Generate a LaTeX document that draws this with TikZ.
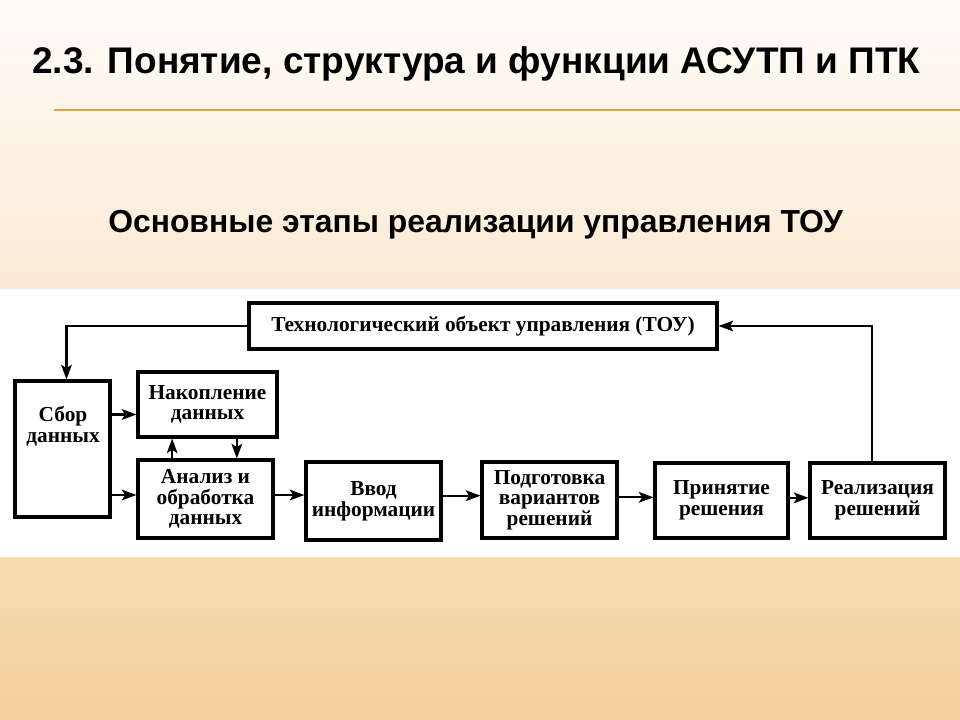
\documentclass[tikz,border=0pt]{standalone}
\usepackage{graphicx}
\usepackage{fontspec}
\setmainfont{Liberation Serif}
\newfontfamily\headfont{Liberation Sans}
\usetikzlibrary{arrows.meta}
\definecolor{bgtop}{HTML}{FFFCF8}
\definecolor{bgbot}{HTML}{F5D09C}
\definecolor{rulecol}{HTML}{E8A33D}
\tikzset{
  box/.style={draw=black, line width=2.3pt, inner sep=0pt, align=center,
    font=\fontsize{16}{15.5}\selectfont\bfseries},
  txt/.style={inner sep=0pt, align=center, font=\fontsize{16}{15.5}\selectfont\bfseries},
  arr/.style={draw=black, line width=1.6pt, -{Stealth[length=11pt,width=8pt,inset=2.5pt]}},
}
\begin{document}
\begin{tikzpicture}[x=0.75pt,y=-0.75pt]
\useasboundingbox (0,0) rectangle (960,720);
\shade[top color=bgtop,bottom color=bgbot] (0,0) rectangle (960,720);
\fill[white] (0,289) rectangle (960,557);
\coordinate (r1) at (54,110);
\coordinate (r2) at (960,110);
\draw[rulecol, line width=1.5pt] (r1) -- (r2);

\node[anchor=west, inner sep=0pt] (title) at (32,64)
  {\resizebox{666pt}{!}{\headfont\bfseries 2.3. Понятие, структура и функции АСУТП и ПТК}};
\node[anchor=west, inner sep=0pt] (sub) at (108,225)
  {\resizebox{551pt}{!}{\headfont\bfseries Основные этапы реализации управления ТОУ}};

\node[box, minimum width=351pt, minimum height=34.5pt] (tou) at (483,326)
  {Технологический объект управления (ТОУ)};
\node[box, minimum width=71.25pt, minimum height=102pt] (sbor) at (62.5,449) {};
\node[txt] (sbortxt) at (63,426) {Сбор\\данных};
\node[box, minimum width=104.25pt, minimum height=48.75pt] (nak) at (207.5,404.5) {Накопление\\данных};
\node[box, minimum width=101.25pt, minimum height=58.5pt] (an) at (205.5,499) {Анализ и\\обработка\\данных};
\node[box, minimum width=101.25pt, minimum height=58.5pt] (vvod) at (373.5,501) {Ввод\\информации};
\node[box, minimum width=101.25pt, minimum height=57pt] (podg) at (549.5,500) {Подготовка\\вариантов\\решений};
\node[box, minimum width=99.75pt, minimum height=56.25pt] (prin) at (721.5,500.5) {Принятие\\решения};
\node[box, minimum width=101.25pt, minimum height=56.25pt] (real) at (877.5,500.5) {Реализация\\решений};

\draw[arr] (tou.west) -| ([xshift=3pt]sbor.north);
\draw[arr] ([yshift=-7.5pt]sbor.east |- nak.west) -- ([yshift=-7.5pt]nak.west);
\draw[arr] ([yshift=3pt]sbor.east |- an.west) -- ([yshift=3pt]an.west);
\draw[arr] ([xshift=-25pt]an.north) -- ([xshift=-25pt]an.north |- nak.south);
\draw[arr] ([xshift=22pt]nak.south) -- ([xshift=22pt]nak.south |- an.north);
\draw[arr] ([yshift=3pt]an.east) -- ([yshift=3pt]an.east -| vvod.west);
\draw[arr] ([yshift=4pt]vvod.east) -- ([yshift=4pt]vvod.east -| podg.west);
\draw[arr] ([yshift=2pt]podg.east) -- ([yshift=2pt]podg.east -| prin.west);
\draw[arr] ([yshift=2pt]prin.east) -- ([yshift=2pt]prin.east -| real.west);
\draw[arr] ([xshift=-4pt]real.north) |- (tou.east);
\end{tikzpicture}
\end{document}
